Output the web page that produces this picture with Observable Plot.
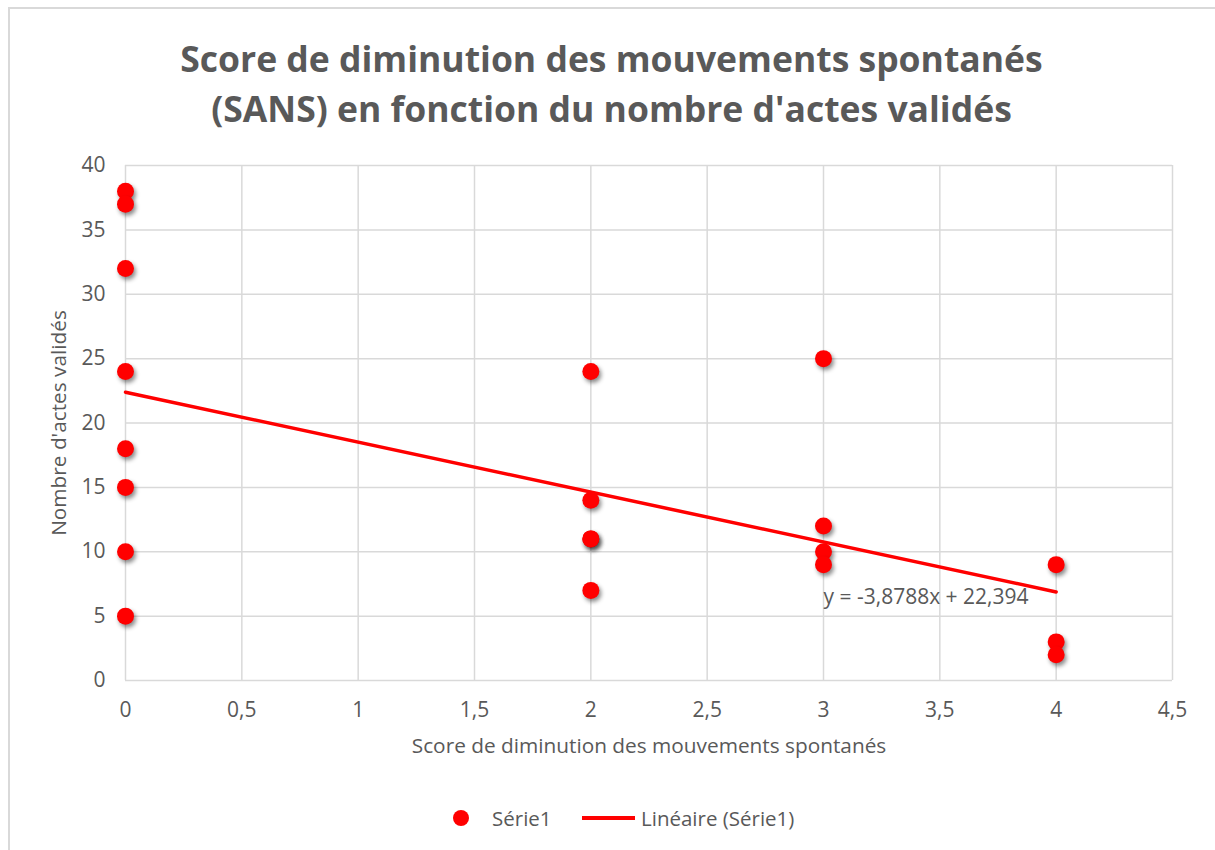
<!DOCTYPE html>
<html><head><meta charset="utf-8">
<script src="https://cdn.jsdelivr.net/npm/d3@7"></script>
<script src="https://cdn.jsdelivr.net/npm/@observablehq/plot@0.6"></script>
<style>
body{margin:0;background:#fff;font-family:"Open Sans",sans-serif;color:#595959;width:1215px;height:850px;overflow:hidden;position:relative}
#frame{position:absolute;left:8px;top:7px;width:1230px;height:870px;border:2px solid #d9d9d9;box-sizing:border-box}
#title{position:absolute;left:8px;width:1207px;top:33px;text-align:center;font-weight:700;font-size:35.5px;line-height:50px;color:#595959}
#chart{position:absolute;left:0;top:140px}
#chart g[aria-label="dot"] circle{filter:drop-shadow(2px 3px 2px rgba(0,0,0,0.45))}
.leg{position:absolute;top:804px;height:28px;font-size:20.5px;line-height:28px;color:#595959;white-space:nowrap}
</style></head>
<body>
<div id="frame"></div>
<div id="title">Score de diminution des mouvements spontanés<br>(SANS) en fonction du nombre d'actes validés</div>
<div id="chart"></div>
<div class="leg" style="left:453px;top:810px;width:16px;height:16px;border-radius:50%;background:#ff0000"></div>
<div class="leg" style="left:492px">Série1</div>
<div class="leg" style="left:582px;top:816px;width:53px;height:3.5px;background:#ff0000"></div>
<div class="leg" style="left:641px">Linéaire (Série1)</div>
<script>
const scoreX = [0,0,0,0,0,0,0,0, 2,2,2,2,2, 3,3,3,3, 4,4,4];
const actesY = [38,37,32,24,18,15,10,5, 24,14,11,11,7, 25,12,10,9, 9,3,2];
const xTicks = [0,0.5,1,1.5,2,2.5,3,3.5,4,4.5];
const yTicks = [0,5,10,15,20,25,30,35,40];
const equationLabel = ["y = -3,8788x + 22,394"];
const equationPos = {x: 3.0, y: 6.5};

const data = scoreX.map((x, i) => ({x, y: actesY[i]}));
const fmt = d => String(d).replace(".", ",");

const chart = Plot.plot({
  width: 1215,
  height: 640,
  marginLeft: 125,
  marginRight: 43,
  marginTop: 25,
  marginBottom: 100,
  style: {fontSize: "21px", fontFamily: "Open Sans, sans-serif", color: "#595959", background: "transparent", overflow: "visible"},
  x: {domain: [0, 4.5]},
  y: {domain: [0, 40]},
  marks: [
    Plot.gridX(xTicks, {stroke: "#d9d9d9", strokeOpacity: 1, strokeWidth: 1.5}),
    Plot.gridY(yTicks, {stroke: "#d9d9d9", strokeOpacity: 1, strokeWidth: 1.5}),
    Plot.axisX(xTicks, {tickSize: 0, tickPadding: 22, tickFormat: fmt, label: "Score de diminution des mouvements spontanés", labelAnchor: "center", labelArrow: "none", labelOffset: 72, fontSize: 21}),
    Plot.axisY(yTicks, {tickSize: 0, tickPadding: 20, tickFormat: fmt, label: "Nombre d'actes validés", labelAnchor: "center", labelArrow: "none", labelOffset: 74, fontSize: 21}),
    Plot.dot(data, {x: "x", y: "y", r: 8.5, fill: "#ff0000", stroke: "none"}),
    Plot.linearRegressionY(data, {x: "x", y: "y", ci: 0, stroke: "#ff0000", strokeWidth: 3.5}),
    Plot.text(equationLabel, {x: equationPos.x, y: equationPos.y, text: d => d, textAnchor: "start", fontSize: 21, fill: "#595959"})
  ]
});
document.getElementById("chart").appendChild(chart);
chart.querySelectorAll('g[aria-label="x-axis label"] text, g[aria-label="y-axis label"] text').forEach(t => t.setAttribute("font-size", "20.8"));
</script>
</body></html>
